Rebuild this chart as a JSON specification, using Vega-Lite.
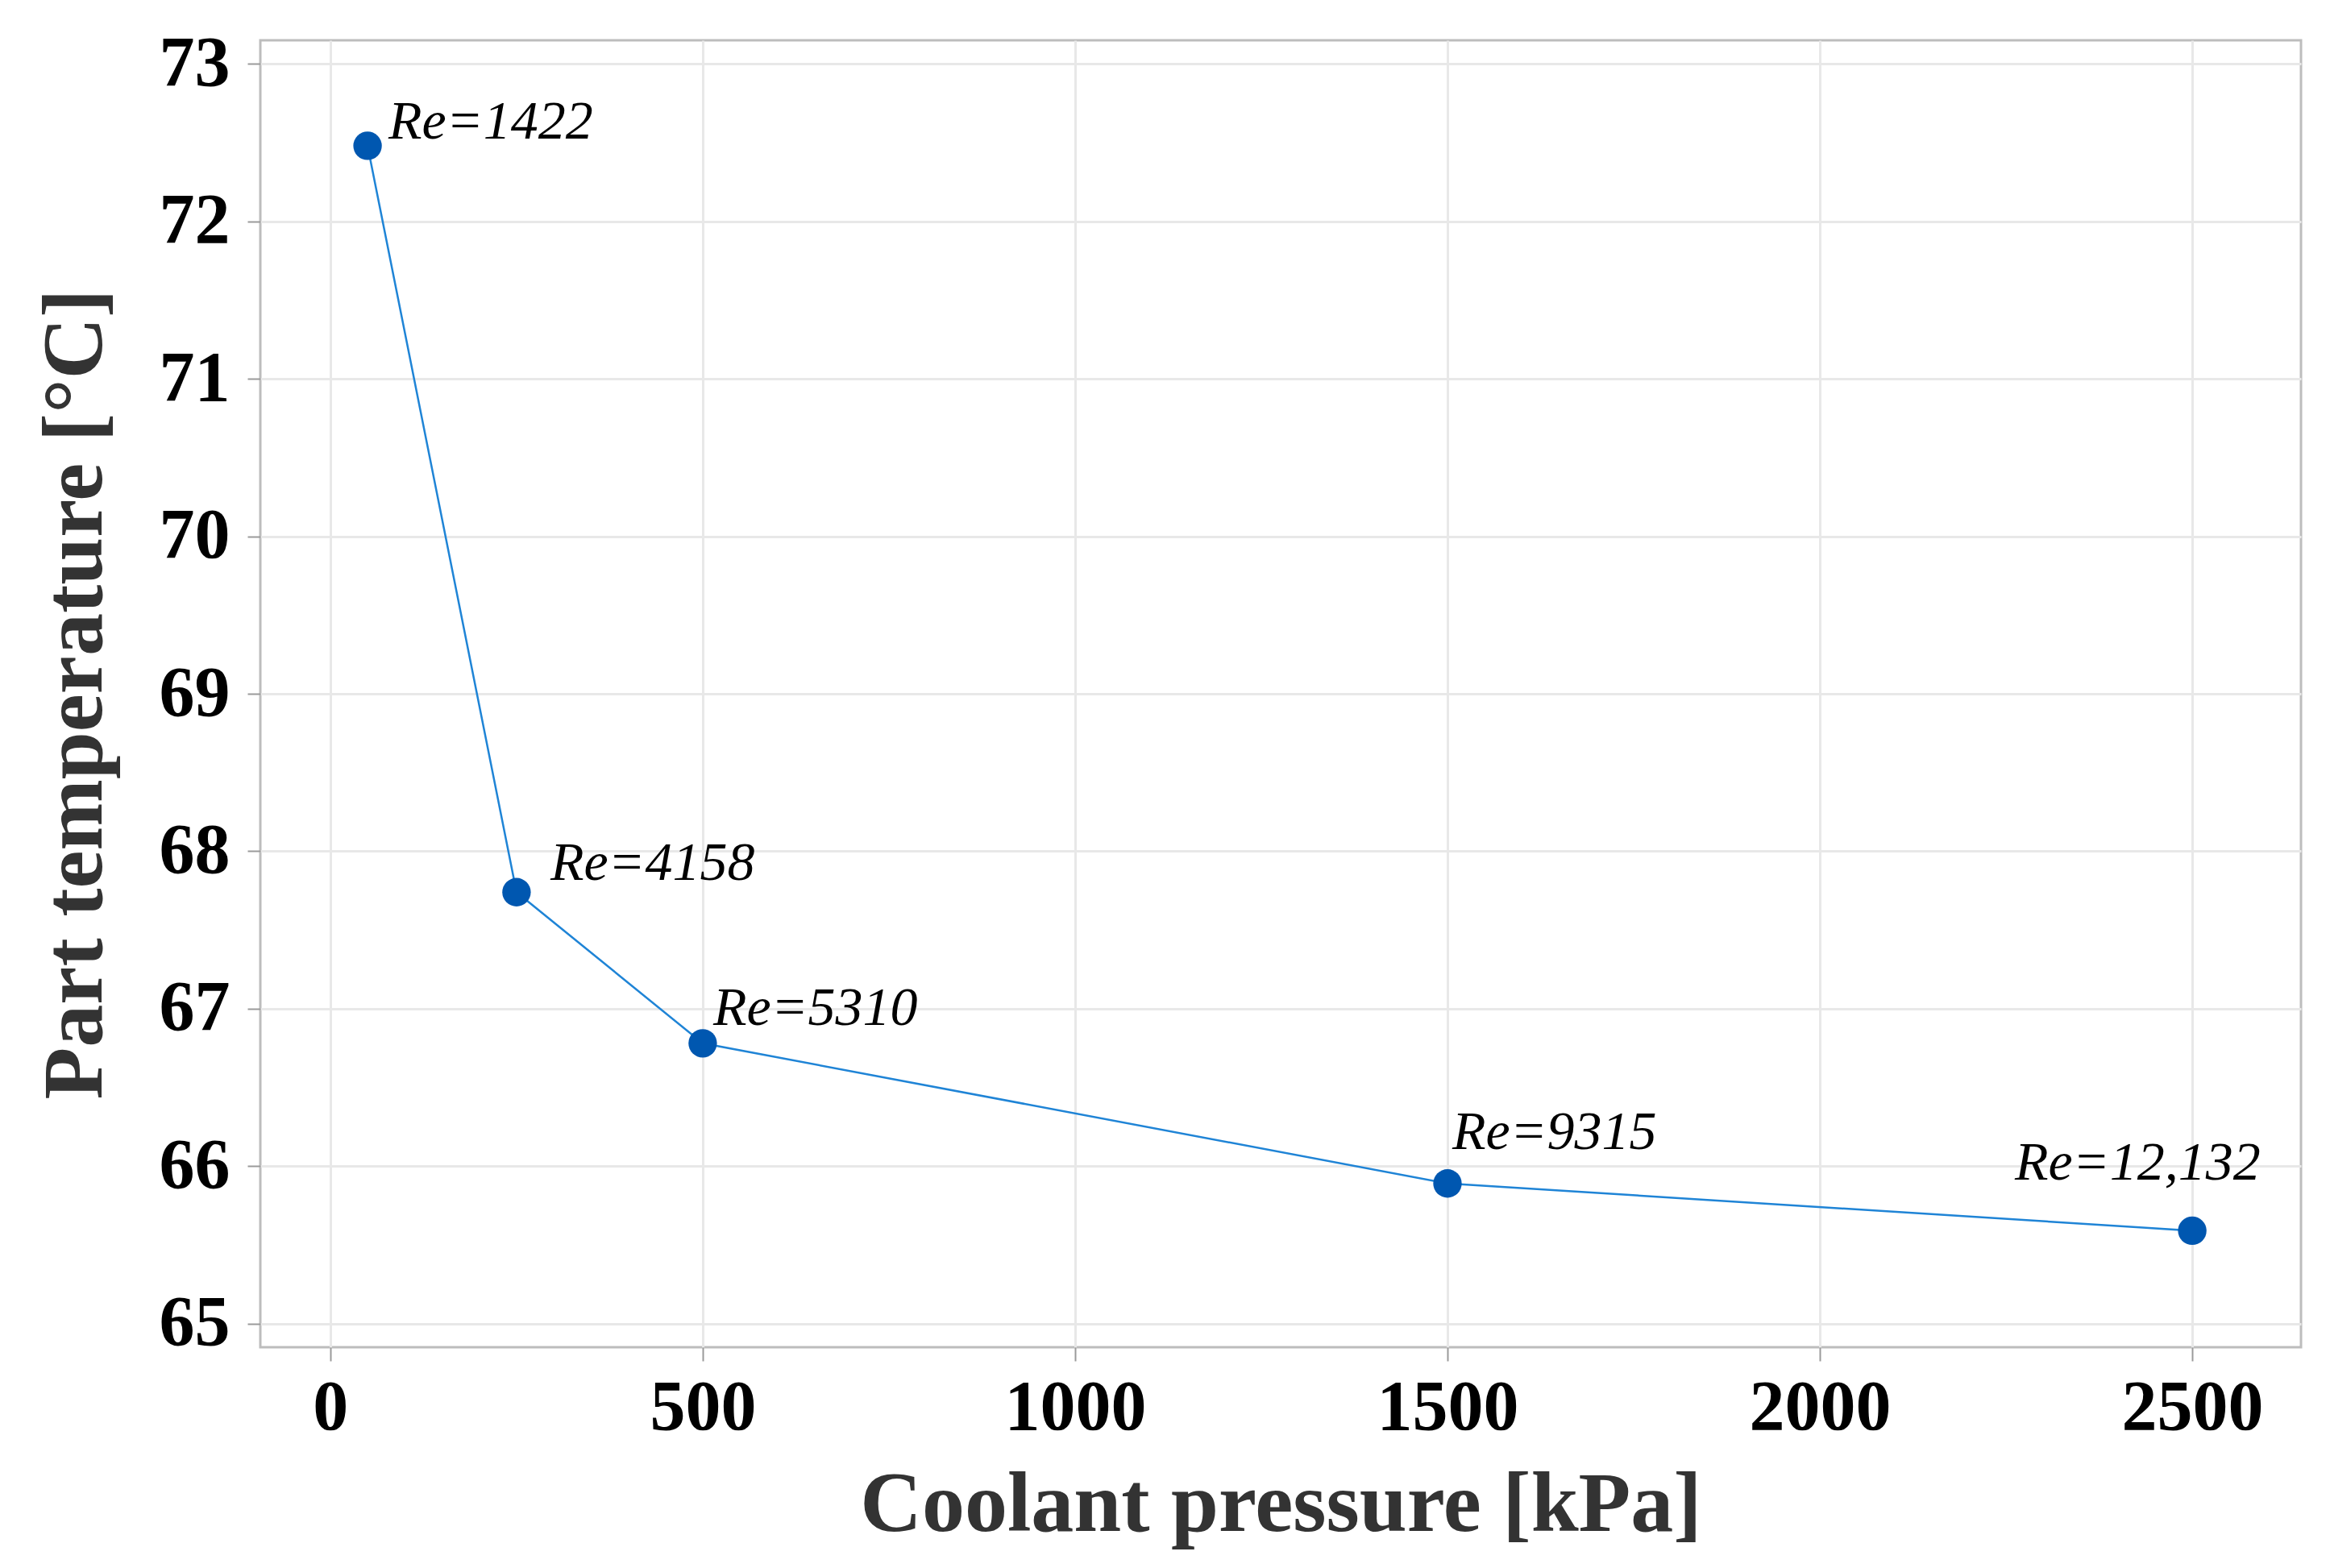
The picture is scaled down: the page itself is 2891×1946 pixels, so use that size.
{
  "$schema": "https://vega.github.io/schema/vega-lite/v6.json",
  "description": "Part temperature against coolant pressure, with Reynolds numbers.",
  "width": 2532,
  "height": 1622,
  "autosize": {"type": "none"},
  "padding": {"left": 323, "top": 50, "right": 36, "bottom": 274},
  "background": "white",
  "config": {
    "view": {"stroke": "#bdbdbd", "strokeWidth": 3},
    "font": "Liberation Serif",
    "axis": {
      "domain": false,
      "grid": true,
      "gridColor": "#e8e8e8",
      "gridWidth": 3,
      "tickColor": "#9a9a9a",
      "tickWidth": 2,
      "tickSize": 17,
      "labelFont": "Liberation Serif",
      "labelFontSize": 88,
      "labelFontWeight": "bold",
      "labelColor": "#000000",
      "labelOverlap": false,
      "labelLimit": 0,
      "titleFont": "Liberation Serif",
      "titleFontSize": 106,
      "titleFontWeight": "bold",
      "titleColor": "#333333"
    }
  },
  "data": {
    "values": [
      {"pressure": 50, "temperature": 72.48, "re": "Re=1422"},
      {"pressure": 250, "temperature": 67.74, "re": "Re=4158"},
      {"pressure": 500, "temperature": 66.78, "re": "Re=5310"},
      {"pressure": 1500, "temperature": 65.89, "re": "Re=9315"},
      {"pressure": 2500, "temperature": 65.59, "re": "Re=12,132"}
    ]
  },
  "encoding": {
    "x": {
      "field": "pressure",
      "type": "quantitative",
      "scale": {"domain": [-94, 2646], "nice": false, "zero": false},
      "axis": {
        "title": "Coolant pressure [kPa]",
        "values": [0, 500, 1000, 1500, 2000, 2500],
        "format": "d",
        "labelPadding": 14,
        "titlePadding": 24
      }
    },
    "y": {
      "field": "temperature",
      "type": "quantitative",
      "scale": {"domain": [64.85, 73.15], "nice": false, "zero": false},
      "axis": {
        "title": "Part temperature [°C]",
        "values": [65, 66, 67, 68, 69, 70, 71, 72, 73],
        "format": "d",
        "labelPadding": 22,
        "tickSize": 16,
        "titlePadding": 50
      }
    }
  },
  "layer": [
    {
      "mark": {"type": "line", "color": "#1f84d6", "strokeWidth": 2.5}
    },
    {
      "mark": {"type": "point", "filled": true, "shape": "circle", "size": 1250, "color": "#0057b0", "opacity": 1}
    },
    {
      "transform": [{"filter": "datum.re == 'Re=1422'"}],
      "mark": {"type": "text", "align": "left", "baseline": "alphabetic", "dx": 26, "dy": -9, "font": "Liberation Serif", "fontStyle": "italic", "fontSize": 68, "color": "#000000"},
      "encoding": {"text": {"field": "re"}}
    },
    {
      "transform": [{"filter": "datum.re == 'Re=4158'"}],
      "mark": {"type": "text", "align": "left", "baseline": "alphabetic", "dx": 42, "dy": -15, "font": "Liberation Serif", "fontStyle": "italic", "fontSize": 68, "color": "#000000"},
      "encoding": {"text": {"field": "re"}}
    },
    {
      "transform": [{"filter": "datum.re == 'Re=5310'"}],
      "mark": {"type": "text", "align": "left", "baseline": "alphabetic", "dx": 13, "dy": -23, "font": "Liberation Serif", "fontStyle": "italic", "fontSize": 68, "color": "#000000"},
      "encoding": {"text": {"field": "re"}}
    },
    {
      "transform": [{"filter": "datum.re == 'Re=9315'"}],
      "mark": {"type": "text", "align": "left", "baseline": "alphabetic", "dx": 6, "dy": -43, "font": "Liberation Serif", "fontStyle": "italic", "fontSize": 68, "color": "#000000"},
      "encoding": {"text": {"field": "re"}}
    },
    {
      "transform": [{"filter": "datum.re == 'Re=12,132'"}],
      "mark": {"type": "text", "align": "left", "baseline": "alphabetic", "dx": -220, "dy": -63, "font": "Liberation Serif", "fontStyle": "italic", "fontSize": 68, "color": "#000000"},
      "encoding": {"text": {"field": "re"}}
    }
  ]
}
